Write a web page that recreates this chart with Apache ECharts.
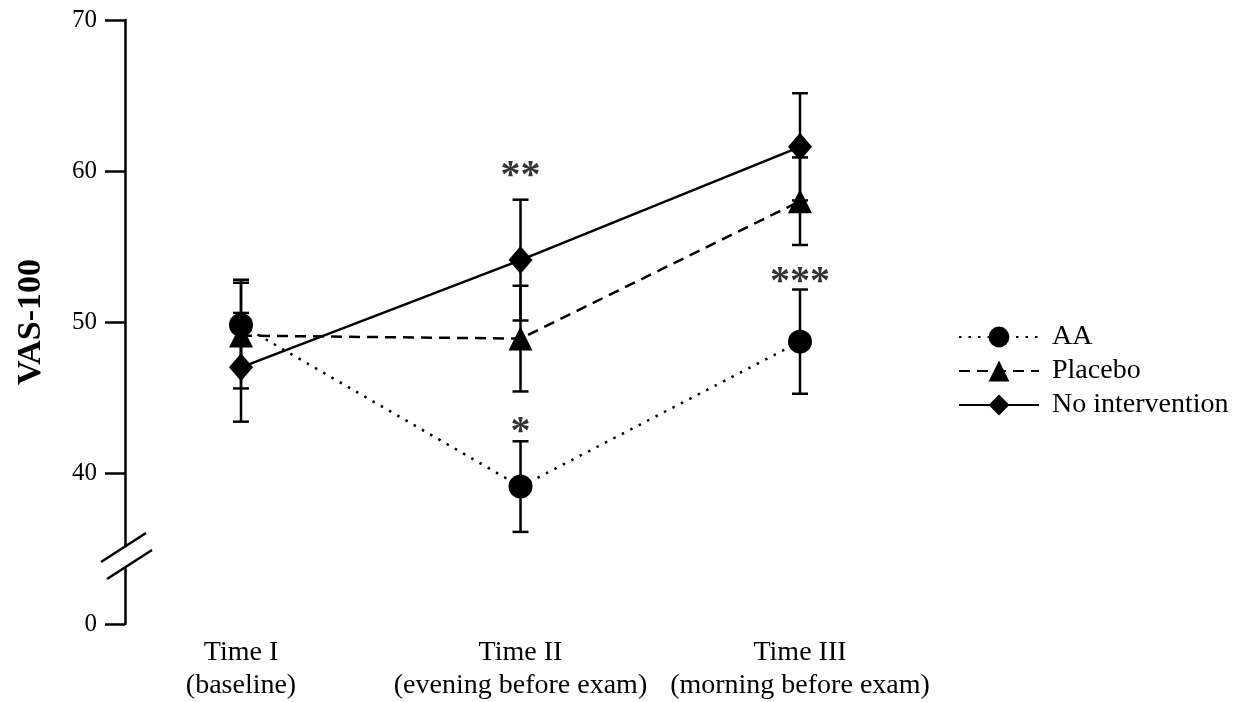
<!DOCTYPE html>
<html>
<head>
<meta charset="utf-8">
<script src="https://cdn.jsdelivr.net/npm/echarts@6/dist/echarts.min.js"></script>
<style>
html, body { margin: 0; padding: 0; background: #fff; }
#main { width: 1251px; height: 702px; }
</style>
</head>
<body>
<div id="main"></div>
<script>
var categories = ['Time I\n(baseline)', 'Time II\n(evening before exam)', 'Time III\n(morning before exam)'];
var aaMean = [49.8, 39.1, 48.7];
var aaErr = [3.0, 3.0, 3.45];
var placeboMean = [49.1, 48.9, 58.0];
var placeboErr = [3.5, 3.5, 2.9];
var noIntMean = [47.0, 54.1, 61.6];
var noIntErr = [3.6, 4.0, 3.55];
// axis is broken below 40: the bottom tick (30) is labelled 0
var yMin = 30, yMax = 70, yStep = 10;
var starCats = [1, 1, 2];
var starValues = [60.55, 43.6, 53.5];
var starText = ['**', '*', '***'];

var font = 'Liberation Serif';
var ink = '#000';
var yOffset = 116;

var myChart = echarts.init(document.getElementById('main'));

function errData(mean, err) {
    return mean.map(function (m, i) { return [i, m - err[i], m + err[i]]; });
}

function renderErr(params, api) {
    var x = api.value(0);
    var lo = api.coord([x, api.value(1)]);
    var hi = api.coord([x, api.value(2)]);
    var hw = 8;
    var st = { stroke: ink, lineWidth: 2.5 };
    return {
        type: 'group',
        children: [
            { type: 'line', shape: { x1: hi[0] - hw, y1: hi[1], x2: hi[0] + hw, y2: hi[1] }, style: st },
            { type: 'line', shape: { x1: hi[0], y1: hi[1], x2: lo[0], y2: lo[1] }, style: st },
            { type: 'line', shape: { x1: lo[0] - hw, y1: lo[1], x2: lo[0] + hw, y2: lo[1] }, style: st }
        ]
    };
}

function errSeries(mean, err) {
    return {
        type: 'custom',
        renderItem: renderErr,
        data: errData(mean, err),
        z: 1,
        silent: true
    };
}

var option = {
    animation: false,
    textStyle: { fontFamily: font, color: ink },
    grid: { left: 241, right: 451, top: 20, bottom: 76 },
    legend: {
        data: ['AA', 'Placebo', 'No intervention'],
        orient: 'vertical',
        left: 953,
        top: 318,
        itemWidth: 80,
        itemHeight: 26,
        itemGap: 6,
        textStyle: { fontFamily: font, fontSize: 28, color: ink, padding: [0, 0, 0, 8] }
    },
    xAxis: {
        type: 'category',
        data: categories,
        boundaryGap: false,
        axisLine: { show: false },
        axisTick: { show: false },
        axisLabel: {
            interval: 0,
            hideOverlap: false,
            margin: 12,
            fontFamily: font,
            fontSize: 28,
            lineHeight: 33,
            color: ink
        }
    },
    yAxis: {
        type: 'value',
        min: yMin,
        max: yMax,
        interval: yStep,
        offset: yOffset,
        name: 'VAS-100',
        nameLocation: 'middle',
        nameGap: 77,
        nameTextStyle: { fontFamily: font, fontSize: 34, fontWeight: 'bold', color: ink },
        splitLine: { show: false },
        axisLine: { show: true, lineStyle: { color: ink, width: 2.5 } },
        axisTick: { show: true, length: 20, lineStyle: { color: ink, width: 2.5 } },
        axisLabel: {
            margin: 28,
            fontFamily: font,
            fontSize: 25,
            color: ink,
            formatter: function (v) { return v === yMin ? '0' : String(v); }
        }
    },
    series: [
        errSeries(aaMean, aaErr),
        errSeries(placeboMean, placeboErr),
        errSeries(noIntMean, noIntErr),
        {
            name: 'AA',
            type: 'line',
            data: aaMean,
            symbol: 'circle',
            symbolSize: 24,
            z: 5,
            itemStyle: { color: ink },
            lineStyle: { color: ink, width: 2.5, type: [2.5, 7] }
        },
        {
            name: 'Placebo',
            type: 'line',
            data: placeboMean,
            symbol: 'triangle',
            symbolSize: 24,
            z: 5,
            itemStyle: { color: ink },
            lineStyle: { color: ink, width: 2.5, type: [11, 7] }
        },
        {
            name: 'No intervention',
            type: 'line',
            data: noIntMean,
            symbol: 'diamond',
            symbolSize: [24, 28],
            z: 5,
            itemStyle: { color: ink },
            lineStyle: { color: ink, width: 2.5 }
        },
        {
            type: 'scatter',
            data: starCats.map(function (c, i) { return [c, starValues[i]]; }),
            symbolSize: 1,
            itemStyle: { color: 'rgba(0,0,0,0)' },
            silent: true,
            label: {
                show: true,
                position: 'inside',
                offset: [0, 14],
                fontFamily: font,
                fontSize: 40,
                fontWeight: 'bold',
                color: ink,
                formatter: function (p) { return starText[p.dataIndex]; }
            }
        }
    ]
};

myChart.setOption(option);

// double-slash break mark on the y axis between 0 and 40
var by = myChart.convertToPixel({ yAxisIndex: 0 }, 34.5);
var bx = myChart.convertToPixel({ xAxisIndex: 0 }, 0) - yOffset;
myChart.setOption({
    graphic: [
        { type: 'rect', shape: { x: bx - 5, y: by - 9, width: 10, height: 20 }, style: { fill: '#fff' }, z: 100 },
        { type: 'line', shape: { x1: bx - 24, y1: by + 6, x2: bx + 21, y2: by - 23 }, style: { stroke: ink, lineWidth: 2.5 }, z: 101 },
        { type: 'line', shape: { x1: bx - 18, y1: by + 23, x2: bx + 27, y2: by - 6 }, style: { stroke: ink, lineWidth: 2.5 }, z: 101 }
    ]
});
</script>
</body>
</html>
